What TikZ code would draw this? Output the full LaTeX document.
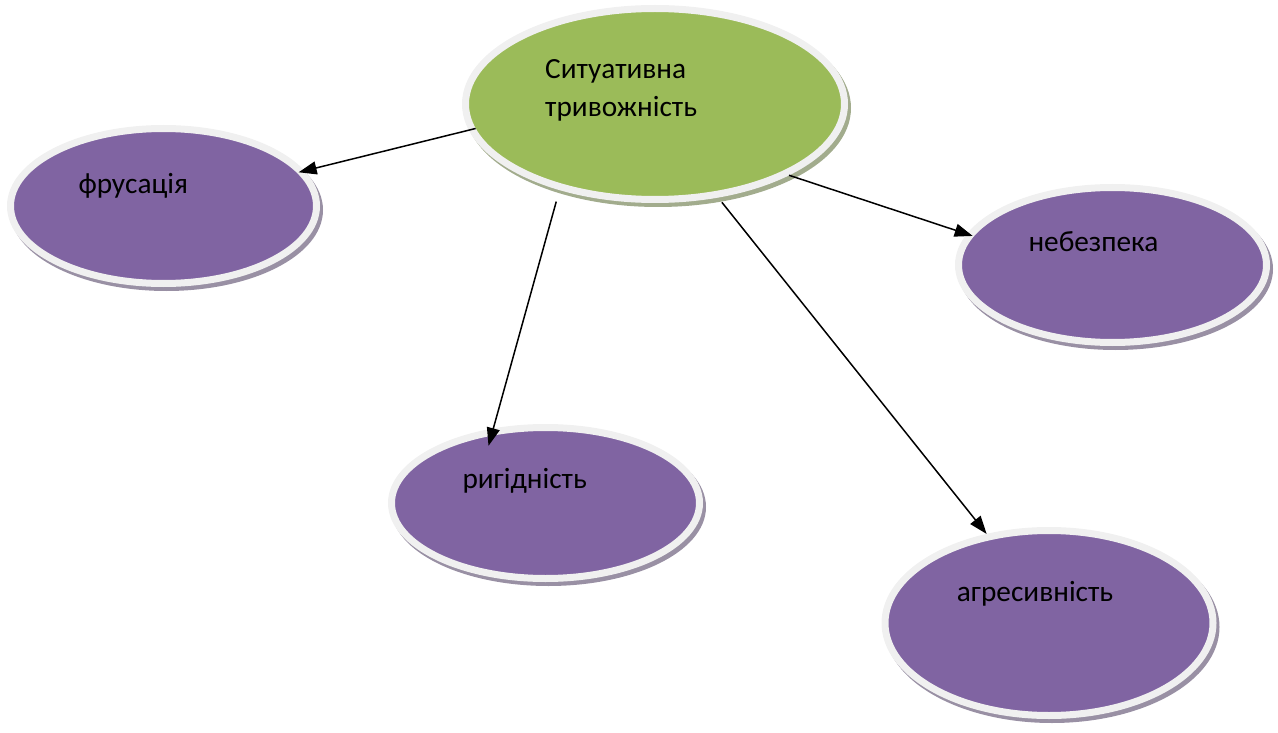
\documentclass[tikz,border=0pt]{standalone}
\usepackage{fontspec}
\setmainfont{Carlito}
\usetikzlibrary{arrows.meta,shapes.geometric,shadows}
\definecolor{ogreen}{HTML}{9BBB59}
\definecolor{opurple}{HTML}{8064A2}
\definecolor{rim}{HTML}{F0F0F0}
\tikzset{
  bubble/.style={ellipse, inner sep=0pt, draw=rim, line width=7pt, fill=#1,
    drop shadow={shadow xshift=3pt, shadow yshift=-4pt, opacity=1,
      fill=#1!40!gray!80!white, draw=#1!40!gray!80!white, line width=7pt}},
  lbl/.style={anchor=base west, inner sep=0pt, font=\fontsize{29.3}{35}\selectfont},
  arr/.style={-{Triangle[length=18pt,width=13pt]}, line width=1.5pt, black},
}
\begin{document}
\begin{tikzpicture}[x=1pt,y=-1pt]
\useasboundingbox (0,0) rectangle (1278,733);
\node[bubble=ogreen, minimum width=379pt, minimum height=191pt] (c) at (655,104) {};
\node[bubble=opurple, minimum width=306pt, minimum height=155pt] (f) at (163.5,206) {};
\node[bubble=opurple, minimum width=308pt, minimum height=155pt] (n) at (1112.5,265) {};
\node[bubble=opurple, minimum width=308pt, minimum height=151pt] (r) at (545.5,503) {};
\node[bubble=opurple, minimum width=328pt, minimum height=185pt] (a) at (1049,623) {};

\node[lbl] (tc1) at (545,78.3) {Ситуативна};
\node[lbl] (tc2) at (545,116.7) {тривожність};
\node[lbl] (tf) at (78.3,193.3) {фрусація};
\node[lbl] (tn) at (1028.3,251.7) {небезпека};
\node[lbl] (tr) at (462.3,488.3) {ригідність};
\node[lbl] (ta) at (956.7,601.7) {агресивність};

\draw[arr, shorten <=-7pt, shorten >=-6pt] (c.188) -- (f.14);
\draw[arr, shorten <=12pt, shorten >=-18pt] (c.222) -- (r.125);
\draw[arr, shorten <=6pt] (c.304) -- (a.125);
\draw[arr, shorten >=-6pt] (c.332) -- (n.168);
\end{tikzpicture}
\end{document}
